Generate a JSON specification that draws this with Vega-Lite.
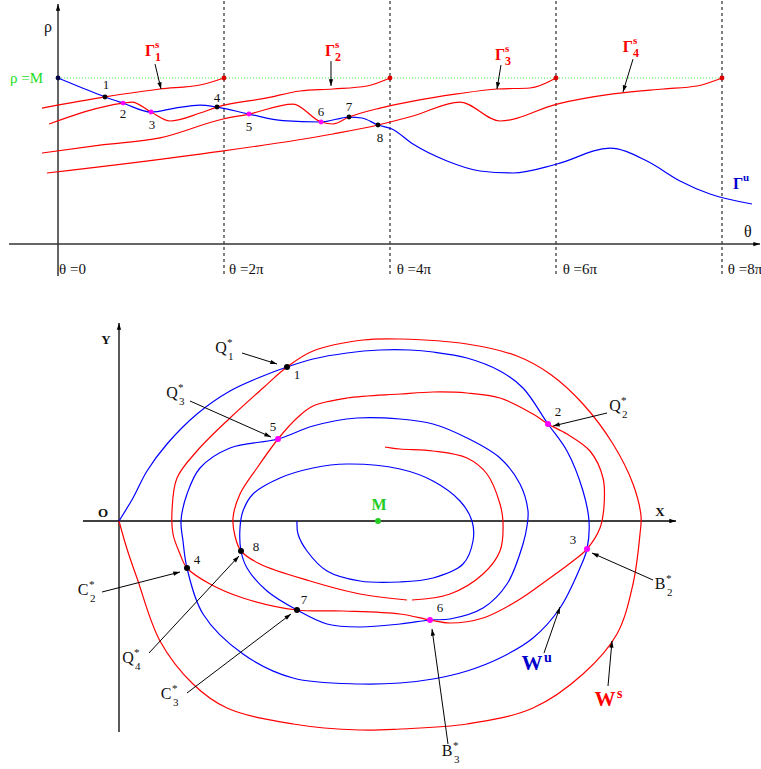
{
"$schema":"https://vega.github.io/schema/vega-lite/v6.json",
"padding":0,
"spacing":0,
"config":{"view":{"stroke":null},"text":{"font":"Liberation Serif"}},
"resolve":{"scale":{"x":"independent","y":"independent","stroke":"independent","fill":"independent"}},
"datasets":{
"top_vlines":[{"t":2,"r":1.464,"r2":-0.199},{"t":4,"r":1.464,"r2":-0.199},{"t":6,"r":1.464,"r2":-0.199},{"t":8,"r":1.464,"r2":-0.199}],
"top_level":[{"t":0,"t2":8,"r":1}],
"top_arrows":[
{"kind":"axis","t":0,"r":-0.193,"t2":0,"r2":1.446},
{"kind":"axis","t":-0.59,"r":0,"t2":8.458,"r2":0},
{"kind":"ann","t":1.169,"r":1.084,"t2":1.241,"r2":0.934},
{"kind":"ann","t":3.289,"r":1.102,"t2":3.289,"r2":0.952},
{"kind":"ann","t":5.337,"r":1.078,"t2":5.289,"r2":0.934},
{"kind":"ann","t":6.928,"r":1.114,"t2":6.807,"r2":0.916}],
"top_curves":[
{"c":"gu","man":"u","t":0,"r":1.0},{"c":"gu","man":"u","t":0.265,"r":0.946},{"c":"gu","man":"u","t":0.566,"r":0.886},{"c":"gu","man":"u","t":0.783,"r":0.849},{"c":"gu","man":"u","t":1.12,"r":0.795},{"c":"gu","man":"u","t":1.41,"r":0.819},{"c":"gu","man":"u","t":1.711,"r":0.837},{"c":"gu","man":"u","t":1.916,"r":0.825},{"c":"gu","man":"u","t":2.301,"r":0.783},{"c":"gu","man":"u","t":2.711,"r":0.743},{"c":"gu","man":"u","t":3.169,"r":0.735},{"c":"gu","man":"u","t":3.506,"r":0.765},{"c":"gu","man":"u","t":3.663,"r":0.759},{"c":"gu","man":"u","t":3.855,"r":0.717},{"c":"gu","man":"u","t":4.024,"r":0.693},{"c":"gu","man":"u","t":4.277,"r":0.602},{"c":"gu","man":"u","t":4.687,"r":0.5},{"c":"gu","man":"u","t":5.084,"r":0.44},{"c":"gu","man":"u","t":5.482,"r":0.428},{"c":"gu","man":"u","t":6.012,"r":0.482},{"c":"gu","man":"u","t":6.651,"r":0.578},{"c":"gu","man":"u","t":7.096,"r":0.5},{"c":"gu","man":"u","t":7.494,"r":0.38},{"c":"gu","man":"u","t":7.855,"r":0.301},{"c":"gu","man":"u","t":8.361,"r":0.241},
{"c":"g1","man":"s","t":-0.193,"r":0.819},{"c":"g1","man":"s","t":0.566,"r":0.886},{"c":"g1","man":"s","t":1.229,"r":0.934},{"c":"g1","man":"s","t":1.711,"r":0.958},{"c":"g1","man":"s","t":2.0,"r":1.0},
{"c":"g2","man":"s","t":-0.108,"r":0.723},{"c":"g2","man":"s","t":0.783,"r":0.849},{"c":"g2","man":"s","t":0.892,"r":0.855},{"c":"g2","man":"s","t":1.12,"r":0.795},{"c":"g2","man":"s","t":1.349,"r":0.741},{"c":"g2","man":"s","t":1.711,"r":0.789},{"c":"g2","man":"s","t":1.916,"r":0.825},{"c":"g2","man":"s","t":2.518,"r":0.88},{"c":"g2","man":"s","t":2.916,"r":0.922},{"c":"g2","man":"s","t":3.313,"r":0.934},{"c":"g2","man":"s","t":3.723,"r":0.952},{"c":"g2","man":"s","t":4.0,"r":1.0},
{"c":"g3","man":"s","t":-0.193,"r":0.548},{"c":"g3","man":"s","t":0.506,"r":0.596},{"c":"g3","man":"s","t":1.229,"r":0.639},{"c":"g3","man":"s","t":1.988,"r":0.753},{"c":"g3","man":"s","t":2.301,"r":0.783},{"c":"g3","man":"s","t":2.831,"r":0.843},{"c":"g3","man":"s","t":3.169,"r":0.735},{"c":"g3","man":"s","t":3.313,"r":0.723},{"c":"g3","man":"s","t":3.506,"r":0.765},{"c":"g3","man":"s","t":3.88,"r":0.819},{"c":"g3","man":"s","t":4.277,"r":0.861},{"c":"g3","man":"s","t":4.807,"r":0.904},{"c":"g3","man":"s","t":5.289,"r":0.934},{"c":"g3","man":"s","t":5.687,"r":0.94},{"c":"g3","man":"s","t":6.0,"r":1.0},
{"c":"g4","man":"s","t":-0.133,"r":0.428},{"c":"g4","man":"s","t":1.711,"r":0.542},{"c":"g4","man":"s","t":3.313,"r":0.663},{"c":"g4","man":"s","t":3.855,"r":0.717},{"c":"g4","man":"s","t":4.277,"r":0.771},{"c":"g4","man":"s","t":4.843,"r":0.855},{"c":"g4","man":"s","t":5.325,"r":0.741},{"c":"g4","man":"s","t":6.012,"r":0.843},{"c":"g4","man":"s","t":6.687,"r":0.904},{"c":"g4","man":"s","t":7.289,"r":0.934},{"c":"g4","man":"s","t":7.699,"r":0.952},{"c":"g4","man":"s","t":8.0,"r":1.0}],
"top_points":[{"t":0,"r":1,"k":"o"},{"t":2,"r":1,"k":"e"},{"t":4,"r":1,"k":"e"},{"t":6,"r":1,"k":"e"},{"t":8,"r":1,"k":"e"},{"t":0.566,"r":0.886,"k":"x"},{"t":0.783,"r":0.849,"k":"t"},{"t":1.12,"r":0.795,"k":"t"},{"t":1.916,"r":0.825,"k":"x"},{"t":2.301,"r":0.783,"k":"t"},{"t":3.169,"r":0.735,"k":"t"},{"t":3.506,"r":0.765,"k":"x"},{"t":3.855,"r":0.717,"k":"x"}],
"top_nums":[{"t":0.578,"r":0.958,"txt":"1"},{"t":0.783,"r":0.783,"txt":"2"},{"t":1.133,"r":0.717,"txt":"3"},{"t":1.916,"r":0.88,"txt":"4"},{"t":2.301,"r":0.705,"txt":"5"},{"t":3.169,"r":0.795,"txt":"6"},{"t":3.506,"r":0.825,"txt":"7"},{"t":3.88,"r":0.639,"txt":"8"}],
"top_thlabels":[{"t":0.012,"r":-0.151,"txt":"θ =0"},{"t":2.06,"r":-0.151,"txt":"θ =2π"},{"t":4.08,"r":-0.151,"txt":"θ =4π"},{"t":6.08,"r":-0.151,"txt":"θ =6π"},{"t":8.07,"r":-0.151,"txt":"θ =8π"}],
"top_axislabels":[{"t":-0.12,"r":1.307,"txt":"ρ"},{"t":8.31,"r":0.072,"txt":"θ"}],
"top_rhoM":[{"t":-0.181,"r":1.0,"txt":"ρ =M"}],
"top_gammas":[{"t":1.108,"r":1.163,"m":"Γ","sup":"s","sub":"1","k":"s"},{"t":3.277,"r":1.163,"m":"Γ","sup":"s","sub":"2","k":"s"},{"t":5.325,"r":1.139,"m":"Γ","sup":"s","sub":"3","k":"s"},{"t":6.867,"r":1.187,"m":"Γ","sup":"s","sub":"4","k":"s"},{"t":8.193,"r":0.361,"m":"Γ","sup":"u","sub":"","k":"u"}],
"bot_arrows":[
{"kind":"axis","X":-0.36,"Y":0,"X2":5.57,"Y2":0},
{"kind":"axis","X":0,"Y":-2.11,"X2":0,"Y2":1.98},
{"kind":"ann","X":1.23,"Y":1.68,"X2":1.58,"Y2":1.57},
{"kind":"ann","X":0.71,"Y":1.2,"X2":1.52,"Y2":0.84},
{"kind":"ann","X":4.88,"Y":1.08,"X2":4.34,"Y2":0.95},
{"kind":"ann","X":-0.17,"Y":-0.71,"X2":0.61,"Y2":-0.51},
{"kind":"ann","X":0.3,"Y":-1.32,"X2":1.2,"Y2":-0.35},
{"kind":"ann","X":0.68,"Y":-1.72,"X2":1.72,"Y2":-0.93},
{"kind":"ann","X":5.34,"Y":-0.59,"X2":4.73,"Y2":-0.32},
{"kind":"ann","X":3.29,"Y":-2.23,"X2":3.13,"Y2":-1.08},
{"kind":"ann","X":4.25,"Y":-1.32,"X2":4.41,"Y2":-0.86},
{"kind":"ann","X":4.89,"Y":-1.65,"X2":4.93,"Y2":-1.2}],
"bot_curves":[
{"c":"wu","man":"u","i":0,"X":0,"Y":0},{"c":"wu","man":"u","i":1,"X":0.14,"Y":0.23},{"c":"wu","man":"u","i":2,"X":0.28,"Y":0.5},{"c":"wu","man":"u","i":3,"X":0.48,"Y":0.77},{"c":"wu","man":"u","i":4,"X":0.78,"Y":1.07},{"c":"wu","man":"u","i":5,"X":1.11,"Y":1.3},{"c":"wu","man":"u","i":6,"X":1.44,"Y":1.45},{"c":"wu","man":"u","i":7,"X":1.68,"Y":1.54},{"c":"wu","man":"u","i":8,"X":1.94,"Y":1.62},{"c":"wu","man":"u","i":9,"X":2.28,"Y":1.68},{"c":"wu","man":"u","i":10,"X":2.61,"Y":1.71},{"c":"wu","man":"u","i":11,"X":2.91,"Y":1.71},{"c":"wu","man":"u","i":12,"X":3.14,"Y":1.69},{"c":"wu","man":"u","i":13,"X":3.48,"Y":1.63},{"c":"wu","man":"u","i":14,"X":3.81,"Y":1.5},{"c":"wu","man":"u","i":15,"X":4.04,"Y":1.33},{"c":"wu","man":"u","i":16,"X":4.29,"Y":0.97},{"c":"wu","man":"u","i":17,"X":4.48,"Y":0.7},{"c":"wu","man":"u","i":18,"X":4.64,"Y":0.3},{"c":"wu","man":"u","i":19,"X":4.7,"Y":0},{"c":"wu","man":"u","i":20,"X":4.68,"Y":-0.28},{"c":"wu","man":"u","i":21,"X":4.61,"Y":-0.47},{"c":"wu","man":"u","i":22,"X":4.41,"Y":-0.87},{"c":"wu","man":"u","i":23,"X":4.14,"Y":-1.17},{"c":"wu","man":"u","i":24,"X":3.81,"Y":-1.37},{"c":"wu","man":"u","i":25,"X":3.48,"Y":-1.5},{"c":"wu","man":"u","i":26,"X":3.14,"Y":-1.58},{"c":"wu","man":"u","i":27,"X":2.81,"Y":-1.62},{"c":"wu","man":"u","i":28,"X":2.41,"Y":-1.63},{"c":"wu","man":"u","i":29,"X":1.74,"Y":-1.57},{"c":"wu","man":"u","i":30,"X":1.24,"Y":-1.33},{"c":"wu","man":"u","i":31,"X":0.84,"Y":-0.93},{"c":"wu","man":"u","i":32,"X":0.68,"Y":-0.47},{"c":"wu","man":"u","i":33,"X":0.64,"Y":-0.2},{"c":"wu","man":"u","i":34,"X":0.62,"Y":0},{"c":"wu","man":"u","i":35,"X":0.68,"Y":0.27},{"c":"wu","man":"u","i":36,"X":0.81,"Y":0.53},{"c":"wu","man":"u","i":37,"X":1.11,"Y":0.73},{"c":"wu","man":"u","i":38,"X":1.59,"Y":0.82},{"c":"wu","man":"u","i":39,"X":1.94,"Y":0.95},{"c":"wu","man":"u","i":40,"X":2.38,"Y":1.03},{"c":"wu","man":"u","i":41,"X":2.81,"Y":1.02},{"c":"wu","man":"u","i":42,"X":3.14,"Y":0.97},{"c":"wu","man":"u","i":43,"X":3.48,"Y":0.83},{"c":"wu","man":"u","i":44,"X":3.81,"Y":0.63},{"c":"wu","man":"u","i":45,"X":4.01,"Y":0.37},{"c":"wu","man":"u","i":46,"X":4.09,"Y":0.1},{"c":"wu","man":"u","i":47,"X":4.08,"Y":-0.05},{"c":"wu","man":"u","i":48,"X":4.04,"Y":-0.23},{"c":"wu","man":"u","i":49,"X":3.88,"Y":-0.63},{"c":"wu","man":"u","i":50,"X":3.64,"Y":-0.87},{"c":"wu","man":"u","i":51,"X":3.31,"Y":-0.98},{"c":"wu","man":"u","i":52,"X":3.11,"Y":-0.99},{"c":"wu","man":"u","i":53,"X":2.81,"Y":-1.03},{"c":"wu","man":"u","i":54,"X":2.41,"Y":-1.06},{"c":"wu","man":"u","i":55,"X":2.08,"Y":-1.03},{"c":"wu","man":"u","i":56,"X":1.78,"Y":-0.89},{"c":"wu","man":"u","i":57,"X":1.48,"Y":-0.7},{"c":"wu","man":"u","i":58,"X":1.28,"Y":-0.47},{"c":"wu","man":"u","i":59,"X":1.22,"Y":-0.3},{"c":"wu","man":"u","i":60,"X":1.21,"Y":-0.07},{"c":"wu","man":"u","i":61,"X":1.24,"Y":0.1},{"c":"wu","man":"u","i":62,"X":1.34,"Y":0.27},{"c":"wu","man":"u","i":63,"X":1.61,"Y":0.43},{"c":"wu","man":"u","i":64,"X":1.94,"Y":0.53},{"c":"wu","man":"u","i":65,"X":2.28,"Y":0.57},{"c":"wu","man":"u","i":66,"X":2.81,"Y":0.52},{"c":"wu","man":"u","i":67,"X":3.14,"Y":0.4},{"c":"wu","man":"u","i":68,"X":3.41,"Y":0.2},{"c":"wu","man":"u","i":69,"X":3.53,"Y":0},{"c":"wu","man":"u","i":70,"X":3.54,"Y":-0.2},{"c":"wu","man":"u","i":71,"X":3.44,"Y":-0.43},{"c":"wu","man":"u","i":72,"X":3.14,"Y":-0.57},{"c":"wu","man":"u","i":73,"X":2.81,"Y":-0.61},{"c":"wu","man":"u","i":74,"X":2.41,"Y":-0.6},{"c":"wu","man":"u","i":75,"X":2.08,"Y":-0.5},{"c":"wu","man":"u","i":76,"X":1.88,"Y":-0.3},{"c":"wu","man":"u","i":77,"X":1.79,"Y":-0.13},{"c":"wu","man":"u","i":78,"X":1.78,"Y":0},
{"c":"ws1","man":"s","i":0,"X":0,"Y":0},{"c":"ws1","man":"s","i":1,"X":0.08,"Y":-0.28},{"c":"ws1","man":"s","i":2,"X":0.18,"Y":-0.57},{"c":"ws1","man":"s","i":3,"X":0.41,"Y":-1.2},{"c":"ws1","man":"s","i":4,"X":0.74,"Y":-1.63},{"c":"ws1","man":"s","i":5,"X":1.08,"Y":-1.87},{"c":"ws1","man":"s","i":6,"X":1.74,"Y":-2.03},{"c":"ws1","man":"s","i":7,"X":2.41,"Y":-2.09},{"c":"ws1","man":"s","i":8,"X":2.81,"Y":-2.08},{"c":"ws1","man":"s","i":9,"X":3.48,"Y":-2.03},{"c":"ws1","man":"s","i":10,"X":4.14,"Y":-1.87},{"c":"ws1","man":"s","i":11,"X":4.64,"Y":-1.53},{"c":"ws1","man":"s","i":12,"X":4.98,"Y":-1.13},{"c":"ws1","man":"s","i":13,"X":5.14,"Y":-0.63},{"c":"ws1","man":"s","i":14,"X":5.21,"Y":-0.13},{"c":"ws1","man":"s","i":15,"X":5.22,"Y":0.05},{"c":"ws1","man":"s","i":16,"X":5.14,"Y":0.37},{"c":"ws1","man":"s","i":17,"X":4.94,"Y":0.77},{"c":"ws1","man":"s","i":18,"X":4.64,"Y":1.17},{"c":"ws1","man":"s","i":19,"X":4.31,"Y":1.47},{"c":"ws1","man":"s","i":20,"X":3.98,"Y":1.65},{"c":"ws1","man":"s","i":21,"X":3.48,"Y":1.77},{"c":"ws1","man":"s","i":22,"X":2.81,"Y":1.82},{"c":"ws1","man":"s","i":23,"X":2.44,"Y":1.81},{"c":"ws1","man":"s","i":24,"X":1.94,"Y":1.7},{"c":"ws1","man":"s","i":25,"X":1.68,"Y":1.54},{"c":"ws1","man":"s","i":26,"X":1.44,"Y":1.33},{"c":"ws1","man":"s","i":27,"X":1.11,"Y":1.03},{"c":"ws1","man":"s","i":28,"X":0.78,"Y":0.7},{"c":"ws1","man":"s","i":29,"X":0.58,"Y":0.43},{"c":"ws1","man":"s","i":30,"X":0.53,"Y":0.1},{"c":"ws1","man":"s","i":31,"X":0.54,"Y":-0.13},{"c":"ws1","man":"s","i":32,"X":0.61,"Y":-0.33},{"c":"ws1","man":"s","i":33,"X":0.68,"Y":-0.47},{"c":"ws1","man":"s","i":34,"X":0.91,"Y":-0.63},{"c":"ws1","man":"s","i":35,"X":1.24,"Y":-0.77},{"c":"ws1","man":"s","i":36,"X":1.78,"Y":-0.89},{"c":"ws1","man":"s","i":37,"X":2.24,"Y":-0.9},{"c":"ws1","man":"s","i":38,"X":2.81,"Y":-0.93},{"c":"ws1","man":"s","i":39,"X":3.11,"Y":-0.99},{"c":"ws1","man":"s","i":40,"X":3.31,"Y":-1.02},{"c":"ws1","man":"s","i":41,"X":3.64,"Y":-0.97},{"c":"ws1","man":"s","i":42,"X":3.98,"Y":-0.8},{"c":"ws1","man":"s","i":43,"X":4.31,"Y":-0.57},{"c":"ws1","man":"s","i":44,"X":4.54,"Y":-0.4},{"c":"ws1","man":"s","i":45,"X":4.68,"Y":-0.28},{"c":"ws1","man":"s","i":46,"X":4.81,"Y":-0.07},{"c":"ws1","man":"s","i":47,"X":4.85,"Y":0.15},{"c":"ws1","man":"s","i":48,"X":4.84,"Y":0.43},{"c":"ws1","man":"s","i":49,"X":4.71,"Y":0.7},{"c":"ws1","man":"s","i":50,"X":4.48,"Y":0.87},{"c":"ws1","man":"s","i":51,"X":4.29,"Y":0.97},{"c":"ws1","man":"s","i":52,"X":4.14,"Y":1.07},{"c":"ws1","man":"s","i":53,"X":3.81,"Y":1.23},{"c":"ws1","man":"s","i":54,"X":3.48,"Y":1.28},{"c":"ws1","man":"s","i":55,"X":3.14,"Y":1.29},{"c":"ws1","man":"s","i":56,"X":2.81,"Y":1.27},{"c":"ws1","man":"s","i":57,"X":2.28,"Y":1.23},{"c":"ws1","man":"s","i":58,"X":1.94,"Y":1.15},{"c":"ws1","man":"s","i":59,"X":1.78,"Y":1.03},{"c":"ws1","man":"s","i":60,"X":1.59,"Y":0.82},{"c":"ws1","man":"s","i":61,"X":1.38,"Y":0.53},{"c":"ws1","man":"s","i":62,"X":1.21,"Y":0.27},{"c":"ws1","man":"s","i":63,"X":1.14,"Y":0.03},{"c":"ws1","man":"s","i":64,"X":1.16,"Y":-0.15},{"c":"ws1","man":"s","i":65,"X":1.22,"Y":-0.3},{"c":"ws1","man":"s","i":66,"X":1.41,"Y":-0.43},{"c":"ws1","man":"s","i":67,"X":1.91,"Y":-0.6},{"c":"ws1","man":"s","i":68,"X":2.41,"Y":-0.73},{"c":"ws1","man":"s","i":69,"X":2.88,"Y":-0.79},
{"c":"ws2","man":"s","i":0,"X":2.93,"Y":-0.79},{"c":"ws2","man":"s","i":1,"X":3.31,"Y":-0.73},{"c":"ws2","man":"s","i":2,"X":3.64,"Y":-0.53},{"c":"ws2","man":"s","i":3,"X":3.81,"Y":-0.3},{"c":"ws2","man":"s","i":4,"X":3.84,"Y":-0.01},{"c":"ws2","man":"s","i":5,"X":3.81,"Y":0.17},{"c":"ws2","man":"s","i":6,"X":3.68,"Y":0.47},{"c":"ws2","man":"s","i":7,"X":3.48,"Y":0.63},{"c":"ws2","man":"s","i":8,"X":3.14,"Y":0.7},{"c":"ws2","man":"s","i":9,"X":2.81,"Y":0.72},{"c":"ws2","man":"s","i":10,"X":2.66,"Y":0.74}],
"bot_points":[{"X":1.68,"Y":1.54,"k":"x"},{"X":4.29,"Y":0.97,"k":"t"},{"X":4.68,"Y":-0.28,"k":"t"},{"X":0.68,"Y":-0.47,"k":"x"},{"X":1.59,"Y":0.82,"k":"t"},{"X":3.11,"Y":-0.99,"k":"t"},{"X":1.78,"Y":-0.89,"k":"x"},{"X":1.22,"Y":-0.3,"k":"x"},{"X":2.59,"Y":0,"k":"g"}],
"bot_nums":[{"X":1.78,"Y":1.46,"txt":"1"},{"X":4.39,"Y":1.09,"txt":"2"},{"X":4.54,"Y":-0.19,"txt":"3"},{"X":0.78,"Y":-0.39,"txt":"4"},{"X":1.54,"Y":0.94,"txt":"5"},{"X":3.21,"Y":-0.87,"txt":"6"},{"X":1.85,"Y":-0.79,"txt":"7"},{"X":1.37,"Y":-0.26,"txt":"8"}],
"bot_names":[{"X":1.02,"Y":1.73,"m":"Q","sub":"1"},{"X":0.53,"Y":1.28,"m":"Q","sub":"3"},{"X":4.96,"Y":1.15,"m":"Q","sub":"2"},{"X":-0.36,"Y":-0.69,"m":"C","sub":"2"},{"X":0.09,"Y":-1.37,"m":"Q","sub":"4"},{"X":0.47,"Y":-1.73,"m":"C","sub":"3"},{"X":5.41,"Y":-0.63,"m":"B","sub":"2"},{"X":3.28,"Y":-2.3,"m":"B","sub":"3"}],
"bot_W":[{"X":4.13,"Y":-1.43,"m":"W","sup":"u","k":"u"},{"X":4.86,"Y":-1.79,"m":"W","sup":"s","k":"s"}],
"bot_axislabels":[{"X":-0.13,"Y":1.81,"txt":"Y"},{"X":-0.16,"Y":0.08,"txt":"O"},{"X":5.41,"Y":0.09,"txt":"X"}],
"bot_M":[{"X":2.6,"Y":0.16,"txt":"M"}]
},
"vconcat":[
{
"width":761,"height":290,
"encoding":{
"x":{"field":"t","type":"quantitative","scale":{"domain":[-0.699,8.47],"nice":false,"zero":false},"axis":null},
"y":{"field":"r","type":"quantitative","scale":{"domain":[-0.283,1.464],"nice":false,"zero":false},"axis":null}
},
"layer":[
{"data":{"name":"top_vlines"},"mark":{"type":"rule","color":"#000000","strokeWidth":1,"strokeDash":[3,3]},"encoding":{"y2":{"field":"r2"}}},
{"data":{"name":"top_level"},"mark":{"type":"rule","color":"#44ee44","strokeWidth":1,"strokeDash":[1,2]},"encoding":{"x2":{"field":"t2"}}},
{"data":{"name":"top_arrows"},"transform":[{"filter":"datum.kind == 'axis'"}],"mark":{"type":"rule","color":"#333333","strokeWidth":1.5},"encoding":{"x2":{"field":"t2"},"y2":{"field":"r2"}}},
{"data":{"name":"top_curves"},"mark":{"type":"line","interpolate":"monotone","strokeWidth":1.2},"encoding":{"stroke":{"field":"man","type":"nominal","scale":{"domain":["s","u"],"range":["#ff0000","#0000ff"]},"legend":null},"detail":{"field":"c","type":"nominal"}}},
{"data":{"name":"top_arrows"},"transform":[{"filter":"datum.kind == 'ann'"}],"mark":{"type":"rule","color":"#000000","strokeWidth":1},"encoding":{"x2":{"field":"t2"},"y2":{"field":"r2"}}},
{"data":{"name":"top_arrows"},"transform":[{"calculate":"atan2((datum.t2 - datum.t) * 83, (datum.r2 - datum.r) * 166) * 180 / PI","as":"ang"}],"mark":{"type":"point","shape":"M0,0L0.32,1L-0.32,1Z","filled":true,"color":"#000000","size":180,"opacity":1},"encoding":{"x":{"field":"t2","type":"quantitative"},"y":{"field":"r2","type":"quantitative"},"angle":{"field":"ang","type":"quantitative","scale":null}}},
{"data":{"name":"top_points"},"mark":{"type":"circle","size":24,"opacity":1},"encoding":{"fill":{"field":"k","type":"nominal","scale":{"domain":["x","t","e","o","s","u","g"],"range":["#000000","#ff00ff","#dd0000","#000044","#ff0000","#0000cc","#22cc22"]},"legend":null}}},
{"data":{"name":"top_nums"},"mark":{"type":"text","fontSize":13,"color":"#111111","baseline":"middle","align":"center"},"encoding":{"text":{"field":"txt"}}},
{"data":{"name":"top_thlabels"},"mark":{"type":"text","fontSize":15,"color":"#111111","baseline":"middle","align":"left"},"encoding":{"text":{"field":"txt"}}},
{"data":{"name":"top_axislabels"},"mark":{"type":"text","fontSize":16,"color":"#111111","baseline":"middle","align":"center"},"encoding":{"text":{"field":"txt"}}},
{"data":{"name":"top_rhoM"},"mark":{"type":"text","fontSize":15,"color":"#22dd22","baseline":"middle","align":"right"},"encoding":{"text":{"field":"txt"}}},
{"data":{"name":"top_gammas"},"mark":{"type":"text","fontSize":16,"fontWeight":"bold","baseline":"middle","align":"center"},"encoding":{"text":{"field":"m"},"fill":{"field":"k","type":"nominal","scale":{"domain":["x","t","e","o","s","u","g"],"range":["#000000","#ff00ff","#dd0000","#000044","#ff0000","#0000cc","#22cc22"]},"legend":null}}},
{"data":{"name":"top_gammas"},"mark":{"type":"text","fontSize":11,"fontWeight":"bold","baseline":"middle","align":"left","dx":5,"dy":-6},"encoding":{"text":{"field":"sup"},"fill":{"field":"k","type":"nominal","scale":{"domain":["x","t","e","o","s","u","g"],"range":["#000000","#ff00ff","#dd0000","#000044","#ff0000","#0000cc","#22cc22"]},"legend":null}}},
{"data":{"name":"top_gammas"},"mark":{"type":"text","fontSize":12,"fontWeight":"bold","baseline":"middle","align":"left","dx":5,"dy":6},"encoding":{"text":{"field":"sub"},"fill":{"field":"k","type":"nominal","scale":{"domain":["x","t","e","o","s","u","g"],"range":["#000000","#ff00ff","#dd0000","#000044","#ff0000","#0000cc","#22cc22"]},"legend":null}}}
]
},
{
"width":761,"height":479,
"encoding":{
"x":{"field":"X","type":"quantitative","scale":{"domain":[-1.19,6.42],"nice":false,"zero":false},"axis":null},
"y":{"field":"Y","type":"quantitative","scale":{"domain":[-2.49,2.3],"nice":false,"zero":false},"axis":null}
},
"layer":[
{"data":{"name":"bot_arrows"},"transform":[{"filter":"datum.kind == 'axis'"}],"mark":{"type":"rule","color":"#000000","strokeWidth":1.3},"encoding":{"x2":{"field":"X2"},"y2":{"field":"Y2"}}},
{"data":{"name":"bot_curves"},"mark":{"type":"line","interpolate":"catmull-rom","strokeWidth":1.2},"encoding":{"stroke":{"field":"man","type":"nominal","scale":{"domain":["s","u"],"range":["#ff0000","#0000ff"]},"legend":null},"detail":{"field":"c","type":"nominal"},"order":{"field":"i","type":"quantitative"}}},
{"data":{"name":"bot_arrows"},"transform":[{"filter":"datum.kind == 'ann'"}],"mark":{"type":"rule","color":"#000000","strokeWidth":1},"encoding":{"x2":{"field":"X2"},"y2":{"field":"Y2"}}},
{"data":{"name":"bot_arrows"},"transform":[{"calculate":"atan2(datum.X2 - datum.X, datum.Y2 - datum.Y) * 180 / PI","as":"ang"}],"mark":{"type":"point","shape":"M0,0L0.32,1L-0.32,1Z","filled":true,"color":"#000000","size":180,"opacity":1},"encoding":{"x":{"field":"X2","type":"quantitative"},"y":{"field":"Y2","type":"quantitative"},"angle":{"field":"ang","type":"quantitative","scale":null}}},
{"data":{"name":"bot_points"},"mark":{"type":"circle","size":36,"opacity":1},"encoding":{"fill":{"field":"k","type":"nominal","scale":{"domain":["x","t","e","o","s","u","g"],"range":["#000000","#ff00ff","#dd0000","#000044","#ff0000","#0000cc","#22cc22"]},"legend":null}}},
{"data":{"name":"bot_nums"},"mark":{"type":"text","fontSize":13,"color":"#111111","baseline":"middle","align":"center"},"encoding":{"text":{"field":"txt"}}},
{"data":{"name":"bot_names"},"mark":{"type":"text","fontSize":16,"color":"#111111","baseline":"middle","align":"center"},"encoding":{"text":{"field":"m"}}},
{"data":{"name":"bot_names"},"mark":{"type":"text","fontSize":11,"color":"#111111","baseline":"middle","align":"left","dx":6,"dy":-5,"text":"*"}},
{"data":{"name":"bot_names"},"mark":{"type":"text","fontSize":11,"color":"#111111","baseline":"middle","align":"left","dx":7,"dy":9},"encoding":{"text":{"field":"sub"}}},
{"data":{"name":"bot_W"},"mark":{"type":"text","fontSize":21,"fontWeight":"bold","baseline":"middle","align":"center"},"encoding":{"text":{"field":"m"},"fill":{"field":"k","type":"nominal","scale":{"domain":["x","t","e","o","s","u","g"],"range":["#000000","#ff00ff","#dd0000","#000044","#ff0000","#0000cc","#22cc22"]},"legend":null}}},
{"data":{"name":"bot_W"},"mark":{"type":"text","fontSize":14,"fontWeight":"bold","baseline":"middle","align":"left","dx":12,"dy":-6},"encoding":{"text":{"field":"sup"},"fill":{"field":"k","type":"nominal","scale":{"domain":["x","t","e","o","s","u","g"],"range":["#000000","#ff00ff","#dd0000","#000044","#ff0000","#0000cc","#22cc22"]},"legend":null}}},
{"data":{"name":"bot_axislabels"},"mark":{"type":"text","fontSize":13,"fontWeight":"bold","color":"#111111","baseline":"middle","align":"center"},"encoding":{"text":{"field":"txt"}}},
{"data":{"name":"bot_M"},"mark":{"type":"text","fontSize":16,"fontWeight":"bold","color":"#22cc22","baseline":"middle","align":"center"},"encoding":{"text":{"field":"txt"}}}
]
}
]
}
